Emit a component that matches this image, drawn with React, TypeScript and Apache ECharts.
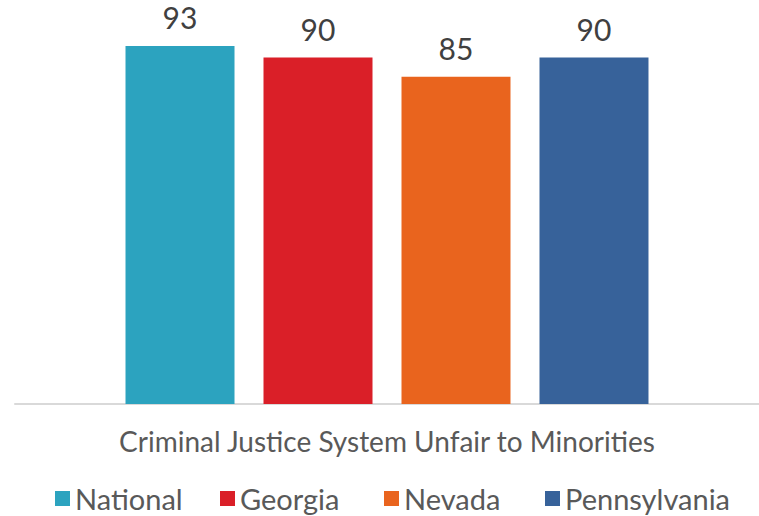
import React, { useEffect, useRef } from "react";
import * as echarts from "echarts";

const categories = ["Criminal Justice System Unfair to Minorities"];
const seriesNames = ["National", "Georgia", "Nevada", "Pennsylvania"];
const seriesValues = [93, 90, 85, 90];
const seriesColors = ["#2CA3BF", "#DA1F28", "#E9641E", "#37629A"];

const FONT = "Lato";
const legendLefts = [50, 215, 379, 540];

export default function App() {
  const ref = useRef<HTMLDivElement>(null);
  useEffect(() => {
    if (!ref.current) return;
    const chart = echarts.init(ref.current, undefined, { renderer: "svg" });
    chart.setOption({
      animation: false,
      textStyle: { fontFamily: FONT },
      legend: seriesNames.map((name, i) => ({
        top: 479,
        left: legendLefts[i],
        itemWidth: 15,
        itemHeight: 15,
        icon: "rect",
        textStyle: { fontSize: 29, color: "#595959", fontFamily: FONT },
        data: [name],
      })),
      grid: { left: 15, right: 0, top: 19, bottom: 112, containLabel: false },
      xAxis: {
        type: "category",
        data: categories,
        axisLine: { lineStyle: { color: "#D9D9D9", width: 2 } },
        axisTick: { show: false },
        axisLabel: { fontSize: 28, color: "#595959", margin: 23, fontFamily: FONT },
      },
      yAxis: {
        type: "value",
        min: 0,
        max: 100,
        show: false,
        splitLine: { show: false },
      },
      series: seriesNames.map((name, i) => ({
        name,
        type: "bar",
        data: [seriesValues[i]],
        barWidth: 109,
        barGap: "26.6%",
        itemStyle: { color: seriesColors[i] },
        label: {
          show: true,
          position: "top",
          distance: 14,
          fontSize: 30,
          color: "#404040",
          fontFamily: FONT,
        },
      })),
    });
    return () => chart.dispose();
  }, []);
  return <div ref={ref} style={{ width: 759, height: 516, position: "absolute", left: 0, top: 0 }} />;
}
